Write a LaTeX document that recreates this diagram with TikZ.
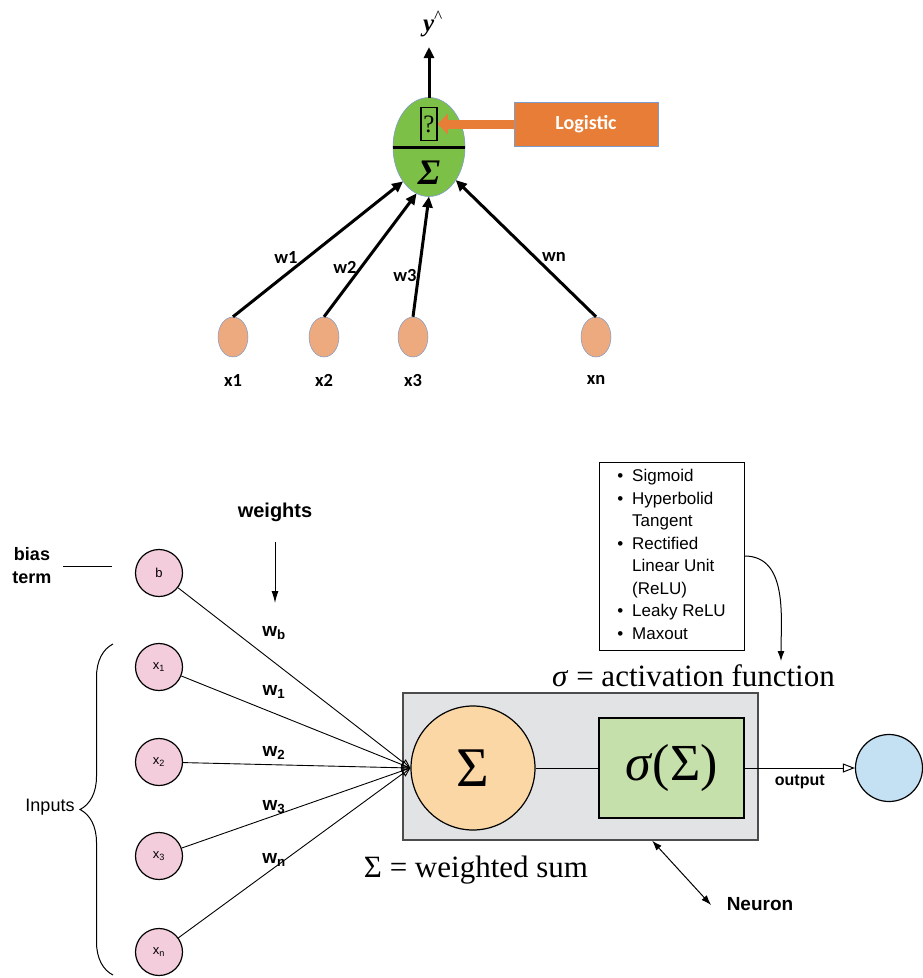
\documentclass[tikz,border=0pt]{standalone}
\usepackage{fontspec}
\setmainfont{Liberation Serif}
\setsansfont{Liberation Sans}
\newfontfamily\calibri{Carlito}
\usetikzlibrary{arrows.meta,shapes.geometric,decorations.pathreplacing,calc}
\definecolor{unitgreen}{RGB}{125,192,72}
\definecolor{logiorange}{RGB}{231,125,54}
\definecolor{inorange}{RGB}{237,170,126}
\definecolor{rimblue}{RGB}{125,155,200}
\definecolor{inpink}{RGB}{244,205,220}
\definecolor{boxgray}{RGB}{226,227,229}
\definecolor{sumorange}{RGB}{250,215,165}
\definecolor{siggreen}{RGB}{197,224,170}
\definecolor{outblue}{RGB}{196,225,244}

\begin{document}
\begin{tikzpicture}[x=1pt,y=-1pt,
    thick arrow/.style={line width=3pt,-{Triangle[length=11pt,width=10pt]}},
    top label/.style={font=\calibri\bfseries\fontsize{18.5}{22}\selectfont},
    in circle/.style={circle,draw,line width=1.2pt,fill=inpink,minimum size=47pt,
                      inner sep=0pt,font=\sffamily\fontsize{13}{15}\selectfont},
    weight line/.style={line width=0.9pt,-{Triangle[open,length=9pt,width=8pt]}},
    weight label/.style={font=\sffamily\bfseries\fontsize{19}{22}\selectfont},
    thin arrow/.style={line width=1pt,-{Latex[length=10pt,width=7pt]}}]
      \useasboundingbox (0,0) rectangle (923,978);
      % logistic unit
      \node[ellipse,draw=rimblue,line width=0.6pt,fill=unitgreen,minimum width=72pt,
            minimum height=99pt,inner sep=0pt,outer sep=0pt] (unit) at (429,147) {};
      \draw[line width=3pt] (unit.west) -- (unit.east);
      \node[draw,line width=1.5pt,minimum width=16pt,minimum height=33pt,inner sep=0pt,
            font=\fontsize{25}{25}\selectfont] (qbox) at (429,124) {?};
      \node[font=\bfseries\itshape\fontsize{36}{36}\selectfont] (sig) at (429,173) {Σ};
      \node[font=\bfseries\itshape\fontsize{25}{25}\selectfont] (yhat) at (433,24)
           {y\textsuperscript{\upshape\mdseries\textasciicircum}};
      \coordinate (ytip) at (429,47);
      \draw[thick arrow] (unit.north) -- (ytip);
      \node[draw=rimblue,line width=0.6pt,fill=logiorange,minimum width=144pt,minimum height=44pt,
            text=white,font=\calibri\bfseries\fontsize{20}{24}\selectfont] (logi) at (586,124) {Logistic};
      \draw[draw=logiorange,line width=9pt,-{Triangle[length=10pt,width=20pt]}] (logi.west) -- (qbox.east);
      \foreach \n/\x/\a/\wx/\wy in {1/233/233/286/257,
                                    2/324/255/345/267,
                                    3/413/270/405/275,
                                    n/596/309/554/257}
      {
        \node[ellipse,draw=rimblue,line width=0.5pt,fill=inorange,minimum width=30pt,
              minimum height=40pt,inner sep=0pt] (in\n) at (\x,337) {};
        \node[top label] (xl\n) at (\x,380) {x\n};
        \node[top label] (wl\n) at (\wx,\wy) {w\n};
        \draw[thick arrow] (in\n.north) -- (unit.\a);
      };
      % neuron
      \node[draw=black!70,line width=1.3pt,fill=boxgray,minimum width=355pt,
            minimum height=147pt] (neuron) at (580.5,766.5) {};
      \node[circle,draw,line width=1.2pt,fill=sumorange,minimum size=124pt,inner sep=0pt,
            font=\fontsize{56}{56}\selectfont] (sum) at (473,768) {Σ};
      \node[draw,line width=1.2pt,fill=siggreen,minimum width=145pt,minimum height=100pt,
            inner sep=0pt,font=\fontsize{52}{56}\selectfont] (act) at (671.5,768) {\textit{σ}(Σ)};
      \node[circle,draw,line width=1.2pt,fill=outblue,minimum size=67pt,inner sep=0pt] (out) at (889,768) {};
      \draw[line width=1pt] (sum) -- (act);
      \draw[line width=1pt,-{Triangle[open,length=12pt,width=9pt]}] (act) -- (out)
           node[midway,below=3pt,font=\sffamily\bfseries\fontsize{16}{18}\selectfont] {output};
      \node[font=\fontsize{31}{36}\selectfont] (actname) at (693.5,676) {\textit{σ} = activation function};
      \node[font=\fontsize{31}{36}\selectfont] (sumname) at (476,870) {Σ = weighted sum};
      % activation functions
      \node[draw,line width=1pt,minimum width=145pt,minimum height=188pt,inner sep=0pt,
            font=\sffamily\fontsize{17}{22.5}\selectfont] (actlist) at (671.5,556)
           {\begin{tabular}{@{}l@{\hspace{9pt}}l@{}}
              \textbullet & Sigmoid\\
              \textbullet & Hyperbolid\\
                          & Tangent\\
              \textbullet & Rectified\\
                          & Linear Unit\\
                          & (ReLU)\\
              \textbullet & Leaky ReLU\\
              \textbullet & Maxout
            \end{tabular}};
      \coordinate (acttip) at (781,661);
      \draw[thin arrow] (actlist.east) to[out=0,in=90] (acttip);
      \node[font=\sffamily\bfseries\fontsize{19}{22}\selectfont] (nlbl) at (760,904) {Neuron};
      \coordinate (ntip) at (711,905);
      \draw[line width=1pt,{Latex[length=10pt,width=7pt]}-{Latex[length=10pt,width=7pt]}]
           ($(neuron.south west)!0.701!(neuron.south east)$) -- (ntip);
      % inputs
      \foreach \n/\y/\lbl/\wy in {b/573/{b}/633,
                                  1/667/{x\textsubscript{1}}/692,
                                  2/762/{x\textsubscript{2}}/753,
                                  3/856/{x\textsubscript{3}}/807,
                                  n/952/{x\textsubscript{n}}/860}
      {
        \node[in circle] (x\n) at (159,\y) {\lbl};
        \node[weight label] (w\n) at (274,\wy) {w\textsubscript{\n}};
        \draw[weight line] (x\n) -- (sum.west);
      };
      \node[font=\sffamily\bfseries\fontsize{18}{23}\selectfont,align=center] (bias) at (32,566) {bias\\term};
      \draw[line width=1pt,shorten <=8pt,shorten >=23pt] (bias.east) -- (bias.east -| xb.west);
      \node[font=\sffamily\bfseries\fontsize{20}{24}\selectfont] (wts) at (275,512) {weights};
      \coordinate (wtip) at (275,603);
      \draw[line width=1pt,shorten <=17pt,-{Latex[length=12pt,width=7pt]}] (wts.south) -- (wtip);
      \draw[line width=1pt,decorate,decoration={brace,amplitude=33pt}] (113,975) -- (113,644);
      \node[font=\sffamily\fontsize{18}{22}\selectfont] (inlbl) at (50,807) {Inputs};
    \end{tikzpicture}
\end{document}
